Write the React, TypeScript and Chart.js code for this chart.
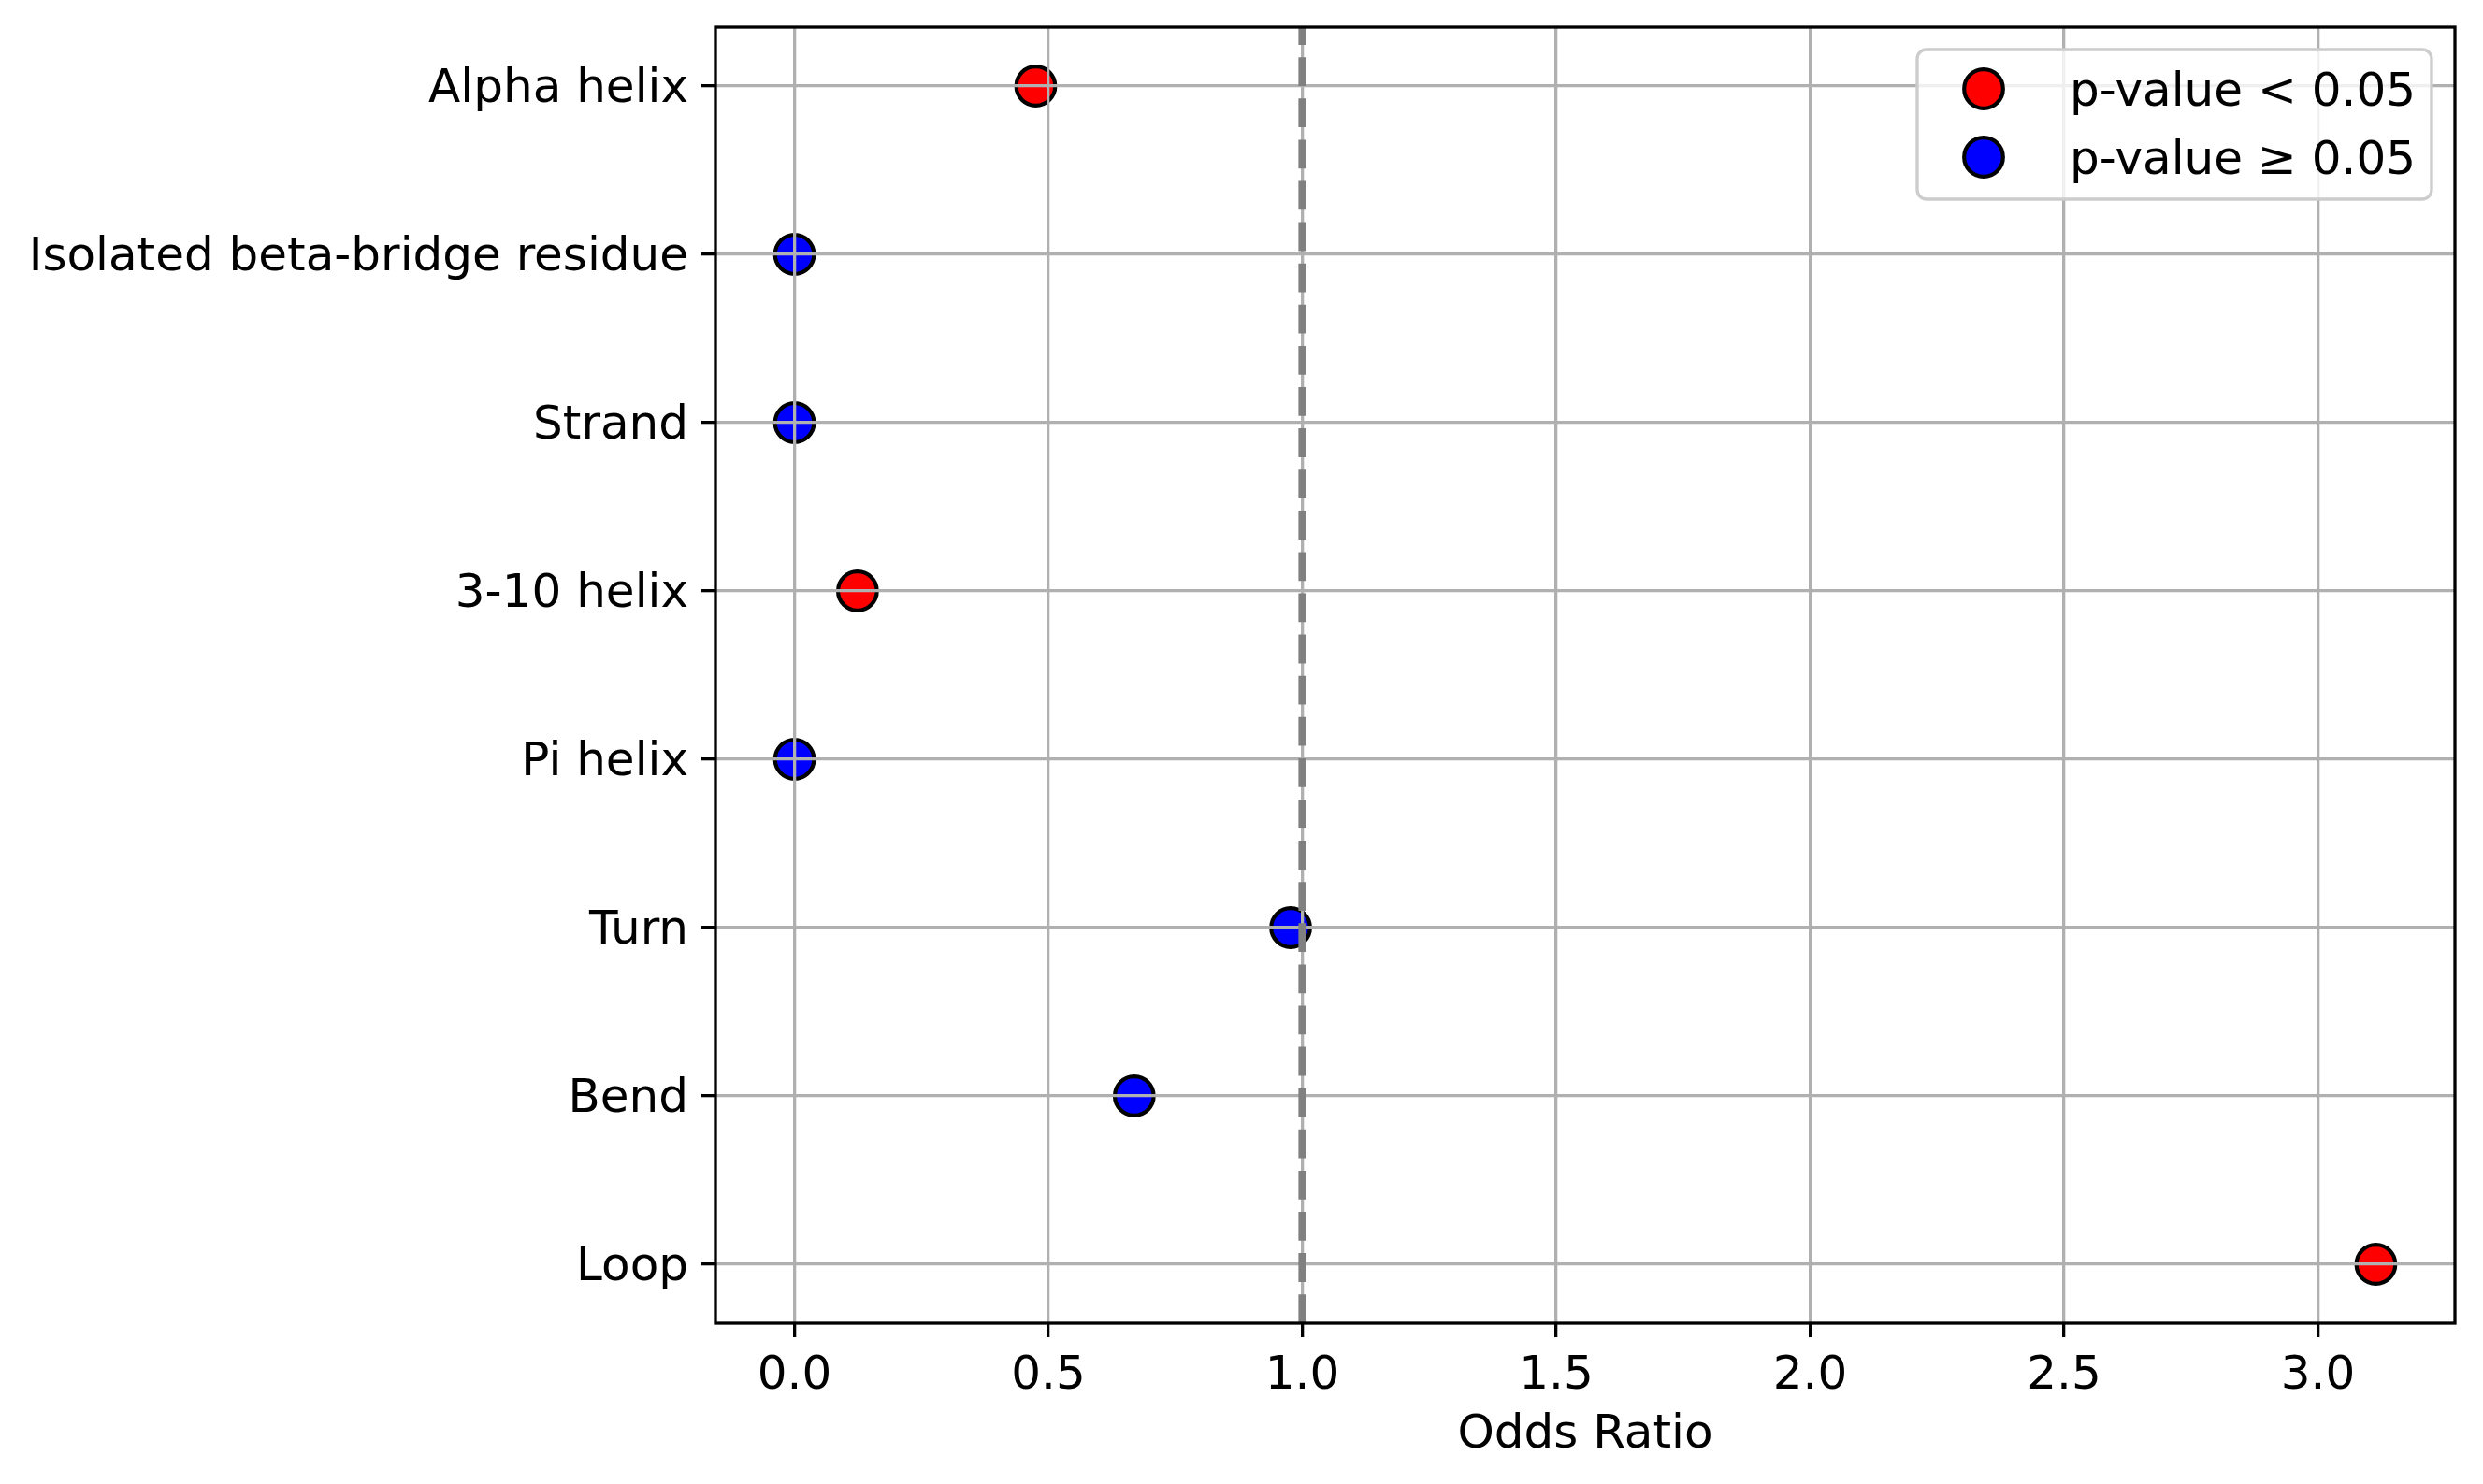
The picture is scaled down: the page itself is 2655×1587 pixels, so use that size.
import { Chart, registerables } from 'chart.js';
import { useEffect, useRef } from 'react';

Chart.register(...registerables);

const categories = [
    'Alpha helix',
    'Isolated beta-bridge residue',
    'Strand',
    '3-10 helix',
    'Pi helix',
    'Turn',
    'Bend',
    'Loop'
];
const oddsRatios = [0.475, 0, 0, 0.124, 0, 0.977, 0.669, 3.114];
const significant = [true, false, false, true, false, false, false, true];
const xTicks = [0, 0.5, 1.0, 1.5, 2.0, 2.5, 3.0];
const referenceLine = 1;
const legendLabels = ['p-value < 0.05', 'p-value \u2265 0.05'];

const FONT = '"DejaVu Sans", sans-serif';
const FONT_SIZE = 50;
const LW = 3.3;

const overlayPlugin = {
    id: 'overlay',
    afterDraw(chart: any) {
        const { ctx, chartArea, scales } = chart;
        const { left, right, top, bottom } = chartArea;

        // dashed reference line at OR = 1
        const xRef = scales.x.getPixelForValue(referenceLine);
        ctx.save();
        ctx.strokeStyle = '#808080';
        ctx.lineWidth = 8.3;
        ctx.setLineDash([30.8, 13.3]);
        ctx.beginPath();
        ctx.moveTo(xRef, bottom);
        ctx.lineTo(xRef, top);
        ctx.stroke();
        ctx.restore();

        // axes frame
        ctx.save();
        ctx.strokeStyle = '#000';
        ctx.lineWidth = LW;
        ctx.strokeRect(left, top, right - left, bottom - top);
        ctx.restore();

        // legend box, upper right
        const boxR = right - 25;
        const boxT = top + 24;
        const boxW = 550;
        const boxH = 160;
        ctx.save();
        ctx.beginPath();
        ctx.roundRect(boxR - boxW, boxT, boxW, boxH, 10);
        ctx.fillStyle = 'rgba(255,255,255,0.8)';
        ctx.fill();
        ctx.strokeStyle = '#cccccc';
        ctx.lineWidth = LW;
        ctx.stroke();

        chart.data.datasets.forEach((ds: any, i: number) => {
            const cy = boxT + 42 + i * 73;
            const cx = boxR - boxW + 71;
            ctx.beginPath();
            ctx.arc(cx, cy, 20.8, 0, Math.PI * 2);
            ctx.fillStyle = ds.backgroundColor;
            ctx.fill();
            ctx.lineWidth = 4.2;
            ctx.strokeStyle = '#000';
            ctx.stroke();

            ctx.fillStyle = '#000';
            ctx.font = `${FONT_SIZE}px ${FONT}`;
            ctx.textAlign = 'left';
            ctx.textBaseline = 'alphabetic';
            ctx.fillText(ds.label, cx + 92, cy + 18);
        });
        ctx.restore();
    }
};

function OddsRatioChart() {
    const canvasRef = useRef<HTMLCanvasElement>(null);
    const chartRef = useRef<Chart | null>(null);

    useEffect(() => {
        if (!canvasRef.current) return;
        const ctx = canvasRef.current.getContext('2d');
        if (!ctx) return;

        if (chartRef.current) chartRef.current.destroy();

        const points = categories.map((_, i) => ({ x: oddsRatios[i], y: i }));
        const xMin = Math.min(...oddsRatios);
        const xMax = Math.max(...oddsRatios);
        const xPad = (xMax - xMin) * 0.05;
        const yPad = (categories.length - 1) * 0.05;

        Chart.defaults.font.family = FONT;
        Chart.defaults.font.size = FONT_SIZE;
        Chart.defaults.color = '#000';

        const pointStyle = {
            pointRadius: 20.8,
            pointHoverRadius: 20.8,
            pointBorderWidth: 4.2,
            pointHoverBorderWidth: 4.2,
            pointBorderColor: '#000',
            pointHoverBorderColor: '#000'
        };

        chartRef.current = new Chart(ctx, {
            type: 'scatter',
            data: {
                datasets: [
                    {
                        label: legendLabels[0],
                        data: points.filter((_, i) => significant[i]),
                        backgroundColor: '#ff0000',
                        pointBackgroundColor: '#ff0000',
                        ...pointStyle
                    },
                    {
                        label: legendLabels[1],
                        data: points.filter((_, i) => !significant[i]),
                        backgroundColor: '#0000ff',
                        pointBackgroundColor: '#0000ff',
                        ...pointStyle
                    }
                ]
            },
            options: {
                responsive: false,
                animation: false,
                devicePixelRatio: 1,
                events: [],
                layout: { padding: { top: 29, right: 30, left: 0, bottom: 0 } },
                plugins: {
                    legend: { display: false },
                    tooltip: { enabled: false }
                },
                scales: {
                    x: {
                        type: 'linear',
                        min: xMin - xPad,
                        max: xMax + xPad,
                        afterBuildTicks: (scale: any) => {
                            scale.ticks = xTicks.map(v => ({ value: v }));
                        },
                        afterFit: (scale: any) => {
                            scale.height = 172;
                            scale.paddingLeft = 0;
                            scale.paddingRight = 0;
                        },
                        ticks: {
                            padding: 12,
                            font: { size: FONT_SIZE },
                            callback: (v: any) => Number(v).toFixed(1)
                        },
                        grid: {
                            z: 1,
                            color: '#b0b0b0',
                            lineWidth: LW,
                            tickColor: '#000',
                            tickWidth: LW,
                            tickLength: 15
                        },
                        border: { display: false },
                        title: {
                            display: true,
                            text: 'Odds Ratio',
                            font: { size: FONT_SIZE, lineHeight: 1 },
                            padding: { top: 0, bottom: 27 }
                        }
                    },
                    y: {
                        type: 'linear',
                        reverse: true,
                        min: -yPad,
                        max: categories.length - 1 + yPad,
                        afterBuildTicks: (scale: any) => {
                            scale.ticks = categories.map((_, i) => ({ value: i }));
                        },
                        afterFit: (scale: any) => {
                            scale.width = 765;
                            scale.paddingTop = 0;
                            scale.paddingBottom = 0;
                        },
                        ticks: {
                            padding: 14,
                            labelOffset: 4,
                            font: { size: FONT_SIZE },
                            callback: (v: any) => categories[Math.round(Number(v))] ?? ''
                        },
                        grid: {
                            z: 1,
                            color: '#b0b0b0',
                            lineWidth: LW,
                            tickColor: '#000',
                            tickWidth: LW,
                            tickLength: 15
                        },
                        border: { display: false }
                    }
                }
            },
            plugins: [overlayPlugin]
        });

        return () => {
            if (chartRef.current) {
                chartRef.current.destroy();
                chartRef.current = null;
            }
        };
    }, []);

    return (
        <div style={{ position: 'fixed', left: 0, top: 0, width: 2655, height: 1587, background: '#fff' }}>
            <canvas ref={canvasRef} width={2655} height={1587} />
        </div>
    );
}

export default function App() {
    return <OddsRatioChart />;
}
